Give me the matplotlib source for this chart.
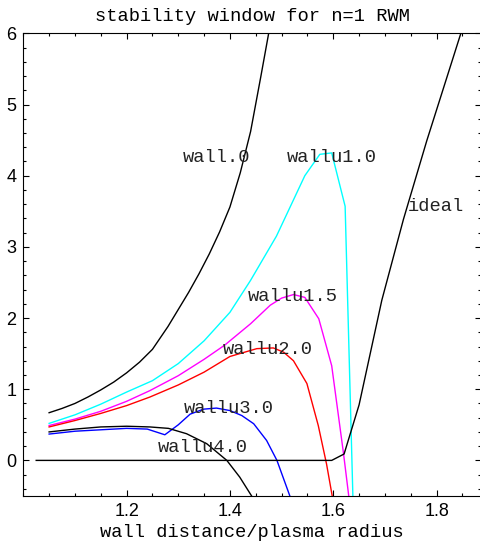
import matplotlib
matplotlib.use("Agg")
import matplotlib.pyplot as plt
from matplotlib.ticker import MultipleLocator

# wall without rotation
wall0_x = [1.05, 1.075, 1.10, 1.125, 1.15, 1.175, 1.20, 1.225, 1.25, 1.28, 1.30, 1.32, 1.34, 1.36, 1.38, 1.40, 1.42, 1.44, 1.46, 1.475]
wall0_y = [0.67, 0.73, 0.80, 0.89, 0.99, 1.10, 1.23, 1.38, 1.56, 1.88, 2.12, 2.36, 2.62, 2.90, 3.21, 3.56, 4.04, 4.62, 5.40, 6.0]

wallu10_x = [1.05, 1.10, 1.15, 1.20, 1.25, 1.30, 1.35, 1.40, 1.44, 1.49, 1.545, 1.574, 1.597, 1.623, 1.638]
wallu10_y = [0.52, 0.64, 0.79, 0.96, 1.12, 1.36, 1.68, 2.08, 2.53, 3.15, 4.0, 4.30, 4.32, 3.57, -0.5]

wallu15_x = [1.05, 1.10, 1.15, 1.20, 1.245, 1.30, 1.35, 1.39, 1.44, 1.478, 1.50, 1.523, 1.545, 1.572, 1.597, 1.620, 1.630]
wallu15_y = [0.49, 0.58, 0.69, 0.83, 0.98, 1.19, 1.42, 1.62, 1.92, 2.18, 2.28, 2.33, 2.29, 1.99, 1.33, 0.09, -0.5]

wallu20_x = [1.05, 1.10, 1.15, 1.20, 1.245, 1.30, 1.35, 1.40, 1.452, 1.484, 1.504, 1.523, 1.549, 1.571, 1.587, 1.598]
wallu20_y = [0.47, 0.56, 0.66, 0.77, 0.89, 1.06, 1.24, 1.46, 1.57, 1.58, 1.52, 1.40, 1.08, 0.49, -0.05, -0.5]

wallu30_x = [1.05, 1.10, 1.15, 1.20, 1.24, 1.274, 1.30, 1.323, 1.349, 1.374, 1.40, 1.423, 1.446, 1.471, 1.491, 1.516]
wallu30_y = [0.37, 0.41, 0.43, 0.45, 0.44, 0.36, 0.50, 0.65, 0.72, 0.735, 0.70, 0.63, 0.515, 0.28, 0.0, -0.5]

wallu40_x = [1.05, 1.10, 1.15, 1.20, 1.245, 1.281, 1.316, 1.355, 1.394, 1.419, 1.442]
wallu40_y = [0.40, 0.44, 0.47, 0.48, 0.47, 0.45, 0.375, 0.235, 0.0, -0.235, -0.5]

ideal_x = [1.025, 1.597, 1.621, 1.650, 1.694, 1.736, 1.781, 1.847]
ideal_y = [0.0, 0.0, 0.09, 0.78, 2.25, 3.39, 4.49, 6.0]

curves = [
    (wall0_x, wall0_y, "black"),
    (wallu10_x, wallu10_y, "#00ffff"),
    (wallu15_x, wallu15_y, "#ff00ff"),
    (wallu20_x, wallu20_y, "#ff0000"),
    (wallu30_x, wallu30_y, "#0000ff"),
    (wallu40_x, wallu40_y, "black"),
    (ideal_x, ideal_y, "black"),
]

# curve labels: text, x, y
labels = [
    ("wall.0", 1.308, 4.26),
    ("wallu1.0", 1.510, 4.26),
    ("ideal", 1.745, 3.57),
    ("wallu1.5", 1.4355, 2.30),
    ("wallu2.0", 1.386, 1.555),
    ("wallu3.0", 1.311, 0.735),
    ("wallu4.0", 1.261, 0.187),
]

mono = "Liberation Mono"

fig = plt.figure(figsize=(4.81, 5.41), dpi=100)
ax = fig.add_axes([0.0484, 0.0832, 0.9516, 0.8552])

for xs, ys, c in curves:
    ax.plot(xs, ys, color=c, linewidth=1.0)

for txt, tx, ty in labels:
    ax.text(tx, ty, txt, fontfamily=mono, fontsize=13.5, color="#222222", ha="left", va="center")

ax.set_xlim(1.0, 1.886)
ax.set_ylim(-0.5, 6.0)
ax.xaxis.set_major_locator(MultipleLocator(0.2))
ax.xaxis.set_minor_locator(MultipleLocator(0.05))
ax.yaxis.set_major_locator(MultipleLocator(1))
ax.yaxis.set_minor_locator(MultipleLocator(0.2))
ax.tick_params(which="both", direction="in", top=True, right=True, labelsize=13, width=0.8)
ax.tick_params(which="major", length=4.5, pad=5)
ax.tick_params(which="minor", length=2.5)
ax.set_xticks([1.2, 1.4, 1.6, 1.8])
ax.set_xticklabels(["1.2", "1.4", "1.6", "1.8"], fontfamily="Liberation Sans")
for lab in ax.get_yticklabels():
    lab.set_fontfamily("Liberation Sans")
for sp in ax.spines.values():
    sp.set_linewidth(0.8)

ax.set_title("stability window for n=1 RWM", fontfamily=mono, fontsize=13.5, pad=9)
ax.set_xlabel("wall distance/plasma radius", fontfamily=mono, fontsize=13.5, labelpad=3)

fig.savefig("out.png", dpi=100)
